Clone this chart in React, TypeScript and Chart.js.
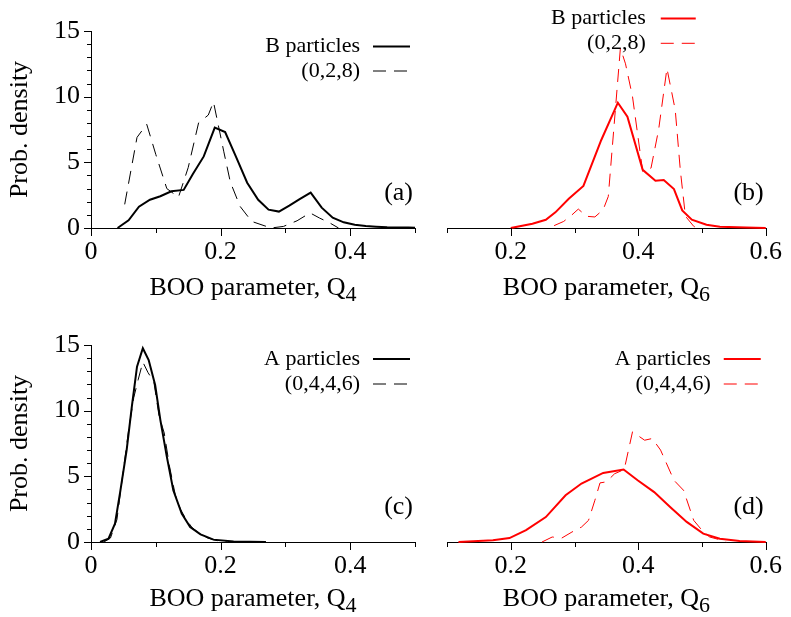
import React, { useEffect, useRef } from 'react';
import { Chart, registerables } from 'chart.js';

Chart.register(...registerables);

const FONT = '"Liberation Serif", "Times New Roman", Times, serif';

// ---------- Data ----------
// (a) Q4, B particles
const q4B_x = [0.041, 0.058, 0.074, 0.091, 0.107, 0.124, 0.143, 0.157, 0.174, 0.191, 0.207, 0.224, 0.241, 0.258, 0.274, 0.29, 0.306, 0.322, 0.339, 0.356, 0.373, 0.39, 0.407, 0.424, 0.44, 0.457, 0.474, 0.49, 0.5];
const q4B_y = [0, 0.58, 1.62, 2.15, 2.42, 2.8, 2.9, 4.1, 5.45, 7.65, 7.3, 5.4, 3.45, 2.15, 1.4, 1.25, 1.7, 2.2, 2.7, 1.55, 0.78, 0.43, 0.25, 0.15, 0.1, 0.06, 0.04, 0.03, 0.02];
// (a) Q4, (0,2,8)
const q4B028_x = [0.052, 0.071, 0.086, 0.1, 0.117, 0.135, 0.15, 0.166, 0.181, 0.189, 0.205, 0.215, 0.23, 0.248, 0.267, 0.278, 0.297, 0.318, 0.338, 0.353, 0.368, 0.382];
const q4B028_y = [1.8, 6.9, 7.9, 5.6, 3.0, 2.35, 4.6, 8.0, 8.6, 9.6, 5.8, 3.5, 1.65, 0.5, 0.18, 0.0, 0.12, 0.55, 1.15, 0.75, 0.4, 0.0];

// (b) Q6, B particles
const q6B_x = [0.2, 0.234, 0.255, 0.27, 0.291, 0.314, 0.342, 0.368, 0.383, 0.407, 0.427, 0.44, 0.456, 0.469, 0.484, 0.507, 0.528, 0.569, 0.6];
const q6B_y = [0, 0.33, 0.63, 1.19, 2.23, 3.2, 6.7, 9.54, 8.48, 4.43, 3.6, 3.65, 2.96, 1.34, 0.63, 0.25, 0.1, 0.03, 0];
// (b) Q6, (0,2,8)
const q6B028_x = [0.268, 0.283, 0.296, 0.306, 0.319, 0.332, 0.345, 0.353, 0.372, 0.38, 0.391, 0.407, 0.42, 0.432, 0.445, 0.458, 0.466, 0.474, 0.487, 0.492];
const q6B028_y = [0.18, 0.5, 1.0, 1.44, 0.89, 0.84, 1.4, 2.4, 13.7, 12.5, 10.0, 4.3, 4.56, 7.5, 12.15, 9.0, 4.4, 0.9, 0.13, 0];

// (c) Q4, A particles
const q4A_x = [0.014, 0.027, 0.037, 0.045, 0.055, 0.063, 0.071, 0.08, 0.089, 0.099, 0.107, 0.117, 0.127, 0.14, 0.153, 0.169, 0.189, 0.22, 0.27];
const q4A_y = [0, 0.25, 1.4, 3.8, 7.0, 10.3, 13.35, 14.75, 13.85, 11.95, 9.3, 6.5, 3.94, 2.16, 1.14, 0.58, 0.18, 0.03, 0];
// (c) Q4, (0,4,4,6)
const q4A0446_x = [0.02, 0.03, 0.04, 0.05, 0.058, 0.066, 0.073, 0.08, 0.088, 0.097, 0.105, 0.113, 0.121, 0.13, 0.138, 0.147, 0.156, 0.166, 0.18, 0.195, 0.21];
const q4A0446_y = [0, 0.3, 1.7, 5.5, 8.5, 11.0, 12.4, 13.7, 12.9, 12.2, 9.6, 8.3, 5.8, 3.6, 2.5, 1.7, 1.1, 0.7, 0.3, 0.1, 0];

// (d) Q6, A particles
const q6A_x = [0.118, 0.172, 0.198, 0.224, 0.255, 0.286, 0.311, 0.345, 0.377, 0.399, 0.425, 0.45, 0.476, 0.502, 0.528, 0.559, 0.6];
const q6A_y = [0, 0.13, 0.3, 0.9, 1.9, 3.56, 4.45, 5.26, 5.52, 4.7, 3.8, 2.67, 1.53, 0.64, 0.25, 0.08, 0];
// (d) Q6, (0,4,4,6)
const q6A0446_x = [0.249, 0.265, 0.28, 0.296, 0.311, 0.322, 0.332, 0.34, 0.35, 0.363, 0.378, 0.391, 0.41, 0.422, 0.435, 0.456, 0.471, 0.487, 0.5, 0.512, 0.531, 0.538];
const q6A0446_y = [0, 0.38, 0.3, 0.76, 1.14, 1.65, 3.18, 4.5, 4.58, 5.2, 5.52, 8.39, 7.75, 7.88, 7.0, 4.7, 3.94, 1.65, 0.89, 0.38, 0.13, 0];

const Y_RANGE = [0, 15];
const Q4_RANGE = [0, 0.5];
const Q6_RANGE = [0.1, 0.6];

const BLACK = '#000000';
const RED = '#ff0000';
const DASH = [13, 8];

type Series = { label: string; xs: number[]; ys: number[]; color: string; dashed: boolean };

type PanelCfg = {
  left: number; top: number; width: number; height: number;
  pad: { left: number; right: number; top: number };
  yWidth: number; xHeight: number;
  showY: boolean;
  xRange: number[];
  sub: string;
  tag: string;
  titleDy: number;
  legendRows: number[];
  legendTextDx: number;
  legendLine: number[];
  series: Series[];
};

const panels: PanelCfg[] = [
  {
    left: 0, top: 0, width: 430, height: 310,
    pad: { left: 0, right: 15, top: 31 }, yWidth: 91, xHeight: 82,
    showY: true, xRange: Q4_RANGE, sub: '4', tag: '(a)', titleDy: 67,
    legendRows: [15.5, 40], legendTextDx: -55, legendLine: [-42, -5],
    series: [
      { label: 'B particles', xs: q4B_x, ys: q4B_y, color: BLACK, dashed: false },
      { label: '(0,2,8)', xs: q4B028_x, ys: q4B028_y, color: BLACK, dashed: true },
    ],
  },
  {
    left: 430, top: 0, width: 361, height: 310,
    pad: { left: 17, right: 21, top: 31 }, yWidth: 0, xHeight: 82,
    showY: false, xRange: Q6_RANGE, sub: '6', tag: '(b)', titleDy: 67,
    legendRows: [-12.5, 12.3], legendTextDx: -120, legendLine: [-105, -70],
    series: [
      { label: 'B particles', xs: q6B_x, ys: q6B_y, color: RED, dashed: false },
      { label: '(0,2,8)', xs: q6B028_x, ys: q6B028_y, color: RED, dashed: true },
    ],
  },
  {
    left: 0, top: 310, width: 430, height: 307,
    pad: { left: 0, right: 15, top: 35 }, yWidth: 91, xHeight: 75,
    showY: true, xRange: Q4_RANGE, sub: '4', tag: '(c)', titleDy: 64,
    legendRows: [14, 39], legendTextDx: -55, legendLine: [-42, -5],
    series: [
      { label: 'A particles', xs: q4A_x, ys: q4A_y, color: BLACK, dashed: false },
      { label: '(0,4,4,6)', xs: q4A0446_x, ys: q4A0446_y, color: BLACK, dashed: true },
    ],
  },
  {
    left: 430, top: 310, width: 361, height: 307,
    pad: { left: 17, right: 21, top: 35 }, yWidth: 0, xHeight: 75,
    showY: false, xRange: Q6_RANGE, sub: '6', tag: '(d)', titleDy: 64,
    legendRows: [14, 39], legendTextDx: -55, legendLine: [-42, -5],
    series: [
      { label: 'A particles', xs: q6A_x, ys: q6A_y, color: RED, dashed: false },
      { label: '(0,4,4,6)', xs: q6A0446_x, ys: q6A0446_y, color: RED, dashed: true },
    ],
  },
];

function makeDecor(p: PanelCfg) {
  return {
    id: 'decor',
    afterDraw(chart: any) {
      const { ctx, chartArea: ca, scales } = chart;
      const xs = scales.x;
      const ys = scales.y;
      ctx.save();
      ctx.strokeStyle = BLACK;
      ctx.lineWidth = 1;
      ctx.setLineDash([]);
      // x ticks: major every 0.2, minor every 0.1, pointing outward
      const k0 = Math.round(p.xRange[0] * 10);
      const k1 = Math.round(p.xRange[1] * 10);
      for (let k = k0; k <= k1; k++) {
        const px = Math.round(xs.getPixelForValue(k / 10)) + 0.5;
        const len = k % 2 === 0 ? 8 : 5;
        ctx.beginPath();
        ctx.moveTo(px, ca.bottom);
        ctx.lineTo(px, ca.bottom + len);
        ctx.stroke();
      }
      if (p.showY) {
        for (let v = Y_RANGE[0]; v <= Y_RANGE[1]; v++) {
          const py = Math.round(ys.getPixelForValue(v)) + 0.5;
          const len = v % 5 === 0 ? 7 : 4;
          ctx.beginPath();
          ctx.moveTo(ca.left - len, py);
          ctx.lineTo(ca.left, py);
          ctx.stroke();
        }
      }
      // x-axis title with subscript
      const main = 'BOO parameter, Q';
      ctx.fillStyle = BLACK;
      ctx.textBaseline = 'alphabetic';
      ctx.textAlign = 'left';
      ctx.font = `26px ${FONT}`;
      const w1 = ctx.measureText(main).width;
      ctx.font = `22px ${FONT}`;
      const w2 = ctx.measureText(p.sub).width;
      const cx = (ca.left + ca.right) / 2;
      const x0 = cx - (w1 + w2) / 2;
      const by = ca.bottom + p.titleDy;
      ctx.font = `26px ${FONT}`;
      ctx.fillText(main, x0, by);
      ctx.font = `22px ${FONT}`;
      ctx.fillText(p.sub, x0 + w1, by + 6);
      // legend
      chart.data.datasets.forEach((ds: any, i: number) => {
        const y = ca.top + p.legendRows[i];
        ctx.font = `22px ${FONT}`;
        ctx.fillStyle = BLACK;
        ctx.textAlign = 'right';
        ctx.textBaseline = 'middle';
        ctx.fillText(ds.label, ca.right + p.legendTextDx, y);
        ctx.strokeStyle = ds.borderColor;
        ctx.lineWidth = ds.borderWidth;
        ctx.setLineDash(ds.borderDash || []);
        ctx.beginPath();
        ctx.moveTo(ca.right + p.legendLine[0], y);
        ctx.lineTo(ca.right + p.legendLine[1], y);
        ctx.stroke();
        ctx.setLineDash([]);
      });
      // panel tag
      ctx.font = `26px ${FONT}`;
      ctx.fillStyle = BLACK;
      ctx.textAlign = 'right';
      ctx.textBaseline = 'middle';
      ctx.fillText(p.tag, ca.right - 2, ca.bottom - 35);
      ctx.restore();
    },
  };
}

function Panel({ p }: { p: PanelCfg }) {
  const ref = useRef<HTMLCanvasElement | null>(null);
  useEffect(() => {
    if (!ref.current) return;
    const datasets = p.series.map((s) => ({
      label: s.label,
      data: s.xs.map((x, i) => ({ x, y: s.ys[i] })),
      borderColor: s.color,
      backgroundColor: s.color,
      borderWidth: s.dashed ? 1 : 2,
      borderDash: s.dashed ? DASH : [],
      pointRadius: 0,
      fill: false,
      tension: 0,
      clip: false as any,
    }));
    const chart = new Chart(ref.current, {
      type: 'line',
      data: { datasets },
      plugins: [makeDecor(p)],
      options: {
        animation: false,
        responsive: false,
        events: [],
        layout: { padding: { left: p.pad.left, right: p.pad.right, top: p.pad.top, bottom: 0 } },
        plugins: { legend: { display: false }, tooltip: { enabled: false } },
        scales: {
          x: {
            type: 'linear',
            min: p.xRange[0],
            max: p.xRange[1],
            afterFit: (s: any) => { s.height = p.xHeight; },
            grid: { display: false, drawTicks: false },
            border: { display: true, color: BLACK, width: 1 },
            ticks: {
              stepSize: 0.1,
              autoSkip: false,
              maxRotation: 0,
              padding: 9,
              color: BLACK,
              font: { family: FONT, size: 26 },
              callback: (v: any) => {
                const r = Math.round(Number(v) * 10);
                if (r % 2 !== 0) return '';
                return r === 0 ? '0' : (r / 10).toFixed(1);
              },
            },
          },
          y: {
            type: 'linear',
            display: p.showY,
            min: Y_RANGE[0],
            max: Y_RANGE[1],
            afterFit: p.showY ? (s: any) => { s.width = p.yWidth; } : undefined,
            grid: { display: false, drawTicks: false },
            border: { display: p.showY, color: BLACK, width: 1 },
            title: {
              display: p.showY,
              text: 'Prob. density',
              color: BLACK,
              font: { family: FONT, size: 26 },
              padding: { top: 5, bottom: 0 },
            },
            ticks: {
              stepSize: 5,
              padding: 11,
              color: BLACK,
              font: { family: FONT, size: 26 },
            },
          },
        },
      } as any,
    });
    return () => chart.destroy();
  }, [p]);
  return (
    <canvas
      ref={ref}
      width={p.width}
      height={p.height}
      style={{ position: 'absolute', left: p.left, top: p.top, width: p.width, height: p.height, display: 'block' }}
    />
  );
}

export default function App() {
  return (
    <div style={{ position: 'absolute', left: 0, top: 0, width: 791, height: 617, background: '#ffffff', overflow: 'hidden' }}>
      {panels.map((p) => (
        <Panel key={p.tag} p={p} />
      ))}
    </div>
  );
}
